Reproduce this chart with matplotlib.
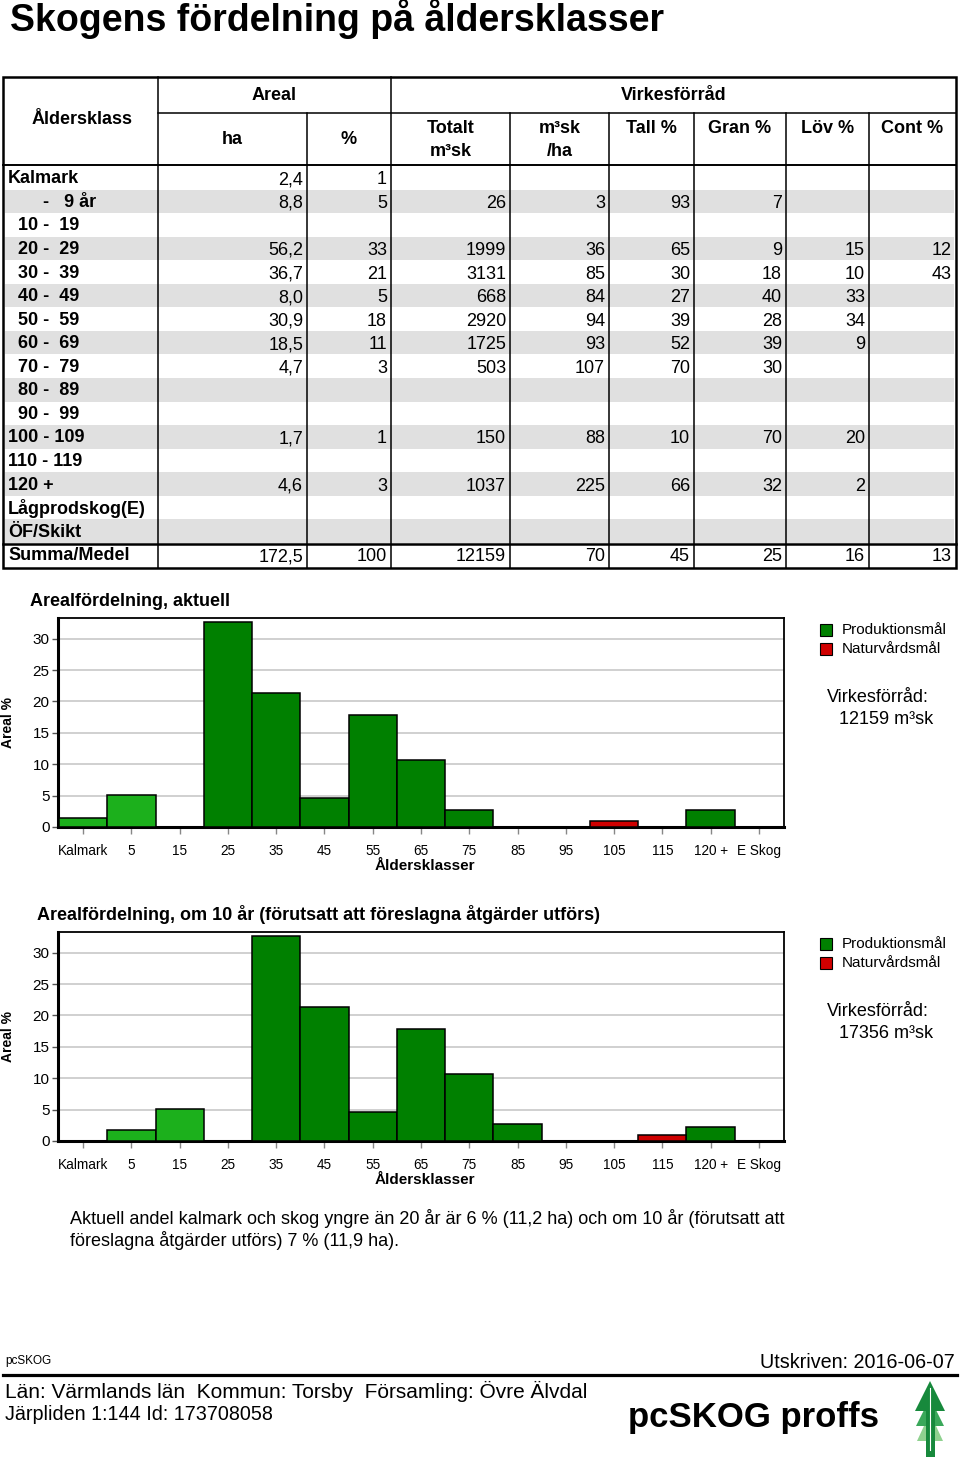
import numpy as np
import matplotlib
matplotlib.use("Agg")
import matplotlib.pyplot as plt
from matplotlib.patches import Rectangle, Polygon

plt.rcParams['font.family'] = ['Liberation Sans', 'DejaVu Sans']

# ---- table data ----
age_labels = ["Kalmark", "       -   9 år", "  10 -  19", "  20 -  29", "  30 -  39",
              "  40 -  49", "  50 -  59", "  60 -  69", "  70 -  79", "  80 -  89",
              "  90 -  99", "100 - 109", "110 - 119", "120 +", "Lågprodskog(E)",
              "ÖF/Skikt"]
areal_ha = ["2,4", "8,8", "", "56,2", "36,7", "8,0", "30,9", "18,5", "4,7", "", "",
            "1,7", "", "4,6", "", ""]
areal_pct = ["1", "5", "", "33", "21", "5", "18", "11", "3", "", "", "1", "", "3", "", ""]
vol_total = ["", "26", "", "1999", "3131", "668", "2920", "1725", "503", "", "",
             "150", "", "1037", "", ""]
vol_per_ha = ["", "3", "", "36", "85", "84", "94", "93", "107", "", "", "88", "",
              "225", "", ""]
tall_pct = ["", "93", "", "65", "30", "27", "39", "52", "70", "", "", "10", "", "66", "", ""]
gran_pct = ["", "7", "", "9", "18", "40", "28", "39", "30", "", "", "70", "", "32", "", ""]
lov_pct = ["", "", "", "15", "10", "33", "34", "9", "", "", "", "20", "", "2", "", ""]
cont_pct = ["", "", "", "12", "43", "", "", "", "", "", "", "", "", "", "", ""]
summa_row = ["Summa/Medel", "172,5", "100", "12159", "70", "45", "25", "16", "13"]

sub_headers = ["ha", "%", "Totalt\nm³sk", "m³sk\n/ha", "Tall %", "Gran %", "Löv %", "Cont %"]

# ---- chart data ----
categories = ["Kalmark", "5", "15", "25", "35", "45", "55", "65", "75", "85", "95",
              "105", "115", "120 +", "E Skog"]
now_prod = [1.4, 5.1, 0, 32.6, 21.3, 4.6, 17.9, 10.7, 2.7, 0, 0, 0, 0, 2.7, 0]
now_nat = [0, 0, 0, 0, 0, 0, 0, 0, 0, 0, 0, 1.0, 0, 0, 0]
future_prod = [0, 1.8, 5.1, 0, 32.6, 21.3, 4.6, 17.9, 10.7, 2.7, 0, 0, 0, 2.3, 0]
future_nat = [0, 0, 0, 0, 0, 0, 0, 0, 0, 0, 0, 0, 0.9, 0, 0]
volume_now = "12159 m³sk"
volume_future = "17356 m³sk"

DARK = '#008000'
LIGHT = '#1cb01c'
RED = '#d00000'

W, H = 960, 1460
fig = plt.figure(figsize=(W / 100, H / 100), dpi=100)
bg = fig.add_axes([0, 0, 1, 1])
bg.set_xlim(0, W)
bg.set_ylim(H, 0)
bg.axis('off')

# title
bg.text(10, 19, "Skogens fördelning på åldersklasser", fontsize=27, weight='bold',
        va='center', ha='left')

# ---- table ----
col_x = [3, 158, 307, 391, 510, 609, 694, 786, 869, 956]
top, mid, head_bot = 77, 113, 165
row0, row_h = 166, 23.56
n_rows = len(age_labels)
sum_top = row0 + n_rows * row_h + 1
bottom = sum_top + 24

for i in range(n_rows):
    if i % 2 == 1:
        bg.add_patch(Rectangle((5, row0 + i * row_h), 949, row_h, color='#e0e0e0', lw=0))

bg.add_patch(Rectangle((col_x[0], top), col_x[-1] - col_x[0], bottom - top,
                       fill=False, ec='black', lw=1.8))
bg.plot([col_x[1], col_x[-1]], [mid, mid], color='black', lw=1.1)
bg.plot([col_x[0], col_x[-1]], [head_bot, head_bot], color='black', lw=1.4)
bg.plot([col_x[0], col_x[-1]], [sum_top, sum_top], color='black', lw=1.8)
for j, x in enumerate(col_x[1:-1], start=1):
    y0 = top if j in (1, 3) else mid
    bg.plot([x, x], [y0, bottom], color='black', lw=1.1)

hfont = dict(fontsize=13, weight='bold')
bg.text(82, 119, "Åldersklass", ha='center', va='center', **hfont)
bg.text((col_x[1] + col_x[3]) / 2, 96, "Areal", ha='center', va='center', **hfont)
bg.text((col_x[3] + col_x[-1]) / 2, 96, "Virkesförråd", ha='center', va='center', **hfont)
for j, lab in enumerate(sub_headers):
    cx = (col_x[j + 1] + col_x[j + 2]) / 2
    if j < 2:
        bg.text(cx, 140, lab, ha='center', va='center', **hfont)
    else:
        bg.text(cx, 120, lab, ha='center', va='top', linespacing=1.45, **hfont)

columns = [areal_ha, areal_pct, vol_total, vol_per_ha, tall_pct, gran_pct, lov_pct, cont_pct]
for i, lab in enumerate(age_labels):
    cy = row0 + i * row_h + row_h / 2 + 1
    bg.text(8, cy, lab, ha='left', va='center', fontsize=13, weight='bold')
    for j, col in enumerate(columns):
        if col[i]:
            bg.text(col_x[j + 2] - 4, cy + 1, col[i], ha='right', va='center', fontsize=13)

cy = sum_top + 12
bg.text(8, cy, summa_row[0], ha='left', va='center', fontsize=13, weight='bold')
for j, val in enumerate(summa_row[1:]):
    bg.text(col_x[j + 2] - 4, cy + 1, val, ha='right', va='center', fontsize=13)


# ---- charts ----
def px_rect(left, top_, right, bot):
    return [left / W, 1 - bot / H, (right - left) / W, (bot - top_) / H]


def draw_chart(top_px, title, title_x, prod, nat, volume):
    bot_px = top_px + 209
    ax = fig.add_axes(px_rect(58, top_px, 784, bot_px))
    x = np.arange(len(categories))
    prod = np.array(prod)
    nat = np.array(nat)
    colors = np.array([LIGHT if i < 3 else DARK for i in x])
    m = prod > 0
    ax.bar(x[m], prod[m], width=1.0, color=colors[m], edgecolor='black',
           linewidth=1.1, zorder=3)
    m = nat > 0
    ax.bar(x[m], nat[m], width=1.0, color=RED, edgecolor='black', linewidth=1.1, zorder=3)
    ax.set_xlim(-0.52, len(categories) - 0.48)
    ax.set_ylim(0, 33.3)
    ax.set_yticks(range(0, 31, 5))
    ax.yaxis.grid(True, color='#c8c8c8', lw=1.2, zorder=0)
    ax.set_axisbelow(True)
    ax.set_xticks(x)
    ax.set_xticklabels(categories)
    ax.tick_params(axis='y', length=4, width=1, color='#555555', labelsize=11, pad=2)
    ax.tick_params(axis='x', length=5, width=1, color='#888888', labelsize=9.8, pad=7)
    for s in ('left', 'bottom'):
        ax.spines[s].set_linewidth(2.2)
    for s in ('top', 'right'):
        ax.spines[s].set_linewidth(1.3)

    bg.text(title_x, top_px - 17, title, fontsize=13, weight='bold', ha='left', va='center')
    bg.text(8, top_px + 104, "Areal %", rotation=90, fontsize=10, weight='bold',
            ha='center', va='center')
    bg.text(425, bot_px + 39, "Åldersklasser", fontsize=11, weight='bold',
            ha='center', va='center')
    bg.add_patch(Rectangle((820, top_px + 6), 12, 12, fc=DARK, ec='black', lw=0.8))
    bg.add_patch(Rectangle((820, top_px + 25), 12, 12, fc=RED, ec='black', lw=0.8))
    bg.text(842, top_px + 12, "Produktionsmål", fontsize=11, va='center', ha='left')
    bg.text(842, top_px + 31, "Naturvårdsmål", fontsize=11, va='center', ha='left')
    bg.text(827, top_px + 79, "Virkesförråd:", fontsize=13, va='center', ha='left')
    bg.text(839, top_px + 101, volume, fontsize=13, va='center', ha='left')


draw_chart(618, "Arealfördelning, aktuell", 30, now_prod, now_nat, volume_now)
draw_chart(932, "Arealfördelning, om 10 år (förutsatt att föreslagna åtgärder utförs)", 37,
           future_prod, future_nat, volume_future)

bg.text(70, 1218, "Aktuell andel kalmark och skog yngre än 20 år är 6 % (11,2 ha) och om 10 år "
        "(förutsatt att", fontsize=13, va='center', ha='left')
bg.text(70, 1240, "föreslagna åtgärder utförs) 7 % (11,9 ha).", fontsize=13,
        va='center', ha='left')

# ---- footer ----
bg.text(5, 1361, "pcSKOG", fontsize=8.5, va='center', ha='left')
bg.text(955, 1363, "Utskriven: 2016-06-07", fontsize=14.2, va='center', ha='right')
bg.plot([3, 957], [1375, 1375], color='black', lw=2.3)
bg.text(5, 1391, "Län: Värmlands län  Kommun: Torsby  Församling: Övre Älvdal",
        fontsize=15, va='center', ha='left')
bg.text(5, 1415, "Järpliden 1:144 Id: 173708058", fontsize=14.2, va='center', ha='left')
bg.text(628, 1418, "pcSKOG proffs", fontsize=25, weight='bold', va='center', ha='left')

# logo tree
bg.add_patch(Polygon([(930, 1413), (917, 1441), (943, 1441)], color='#8fd18f', lw=0))
bg.add_patch(Polygon([(930, 1398), (916, 1426), (944, 1426)], color='#3aa85a', lw=0))
bg.add_patch(Polygon([(930, 1381), (915, 1411), (945, 1411)], color='#17893c', lw=0))
bg.add_patch(Rectangle((925.5, 1395), 9, 62, color='#17893c', lw=0))
bg.plot([930, 930], [1388, 1450], color='white', lw=0.8)

fig.savefig("out.png", dpi=100)
